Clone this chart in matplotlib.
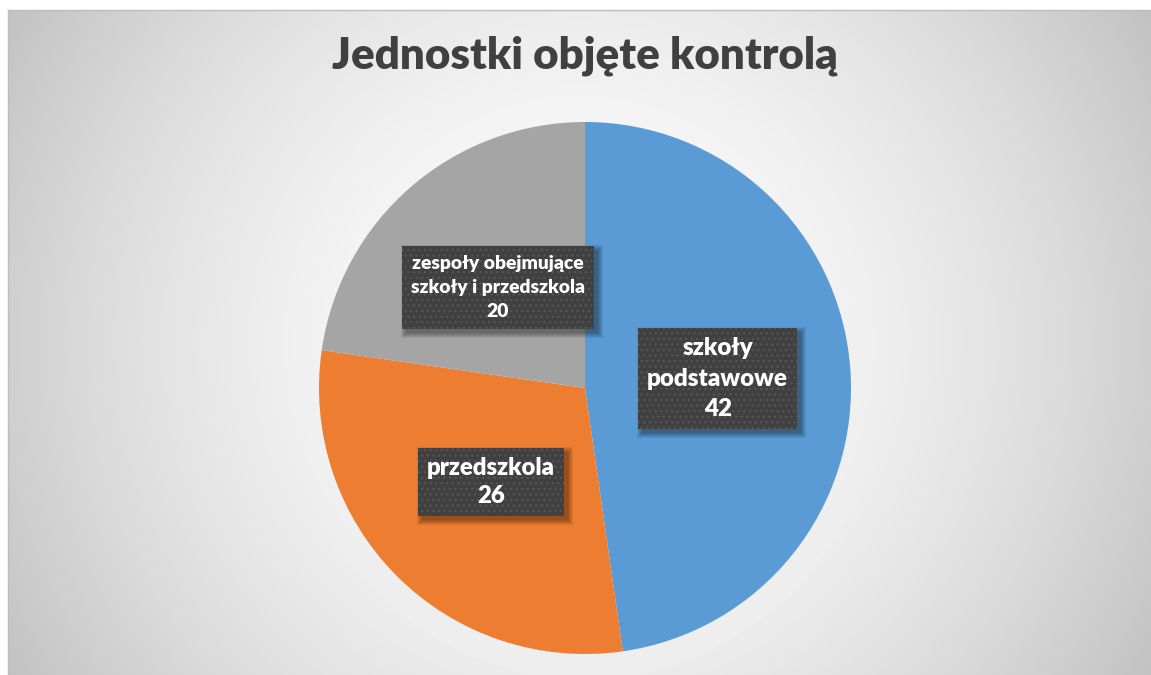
import numpy as np
import matplotlib
matplotlib.use("Agg")
import matplotlib.pyplot as plt
from matplotlib.patches import Rectangle, Circle

# ---- data ----
categories = ["szkoły\npodstawowe", "przedszkola", "zespoły obejmujące\nszkoły i przedszkola"]
values = [42, 26, 20]
colors = ["#5B9BD5", "#ED7D31", "#A5A5A5"]
title = "Jednostki objęte kontrolą"

# ---- layout (pixels) ----
W, H = 1151, 675
FONT = "Lato"
WEIGHT = "heavy"
fig = plt.figure(figsize=(W / 100, H / 100), dpi=100)

# background: radial gradient chart area
bg = fig.add_axes([0, 0, 1, 1])
bg.set_axis_off()
yy, xx = np.mgrid[0:H, 0:W] + 0.5
x0, y0 = 8, 10
cx, cy = (x0 + W) / 2, (y0 + H) / 2
R = np.hypot(W - cx, H - cy)
d = np.clip(np.hypot(xx - cx, yy - cy) / R, 0, 1)
v = (253 - 59 * d ** 1.8) / 255
v[(xx < x0) | (yy < y0)] = 1.0
bg.imshow(np.dstack([v, v, v]), extent=[0, W, H, 0], aspect="auto", interpolation="bilinear")
bg.set_xlim(0, W)
bg.set_ylim(H, 0)
bg.plot([x0, W], [y0, y0], color="#bdbdbd", lw=1)
bg.plot([x0, x0], [y0, H], color="#bdbdbd", lw=1)

# title
t_title = fig.text(585 / W, 1 - 68 / H, title, ha="center", va="baseline",
                   fontsize=28, fontfamily=FONT, fontweight=WEIGHT, color="#404040")

# pie
pcx, pcy, pr = 585, 388, 266
ax = fig.add_axes([(pcx - pr) / W, (H - pcy - pr) / H, 2 * pr / W, 2 * pr / H])
for k in range(20):
    ax.add_patch(Circle((0, 0), 1 + 0.005 * (k + 1), facecolor="white", alpha=0.06, lw=0,
                        zorder=0, clip_on=False))
labels = [f"{c}\n{val}" for c, val in zip(categories, values)]
wedges, texts = ax.pie(values, labels=labels, colors=colors, startangle=90, counterclock=False,
                       labeldistance=0.5, radius=1,
                       wedgeprops=dict(linewidth=0, zorder=1),
                       textprops=dict(color="white", fontfamily=FONT, fontweight=WEIGHT, fontsize=16))
ax.set_xlim(-1, 1)
ax.set_ylim(-1, 1)
ax.set_axis_off()
for t in texts:
    t.set_ha("center")
    t.set_va("center")
    t.set_multialignment("center")
    t.set_zorder(6)

fig.canvas.draw()
r = fig.canvas.get_renderer()

# fit title width
bb = t_title.get_window_extent(renderer=r)
t_title.set_fontsize(28 * 506 / bb.width)

# fit label widths and line pitch
target_w = [141, 128, 174.5]
target_pitch = [32.3, 30.0, 25.0]
for t, tw, tp in zip(texts, target_w, target_pitch):
    bb = t.get_window_extent(renderer=r)
    fs = t.get_fontsize() * tw / bb.width
    t.set_fontsize(fs)
    tmp = ax.text(0, 0, "l", fontsize=fs, fontfamily=FONT, fontweight=WEIGHT)
    hl = tmp.get_window_extent(renderer=r).height
    tmp.remove()
    t.set_linespacing(tp / hl)

fig.canvas.draw()
inv = ax.transData.inverted()
padx, pady = 9, 9
for t in texts:
    bb = t.get_window_extent(renderer=r)
    bx0, by0 = bb.x0 - padx, bb.y0 - pady
    bx1, by1 = bb.x1 + padx, bb.y1 + pady
    # soft shadow
    for i in range(6):
        e = i
        (sx0, sy0) = inv.transform((bx0 + 4 - e, by0 - 4 - e))
        (sx1, sy1) = inv.transform((bx1 + 4 + e, by1 - 4 + e))
        ax.add_patch(Rectangle((sx0, sy0), sx1 - sx0, sy1 - sy0, facecolor="black",
                               alpha=0.07, lw=0, zorder=3, clip_on=False))
    (dx0, dy0) = inv.transform((bx0, by0))
    (dx1, dy1) = inv.transform((bx1, by1))
    ax.add_patch(Rectangle((dx0, dy0), dx1 - dx0, dy1 - dy0, facecolor="#404040",
                           edgecolor="#545454", hatch="...", lw=0, zorder=4, clip_on=False))

fig.savefig("out.png", dpi=100)
